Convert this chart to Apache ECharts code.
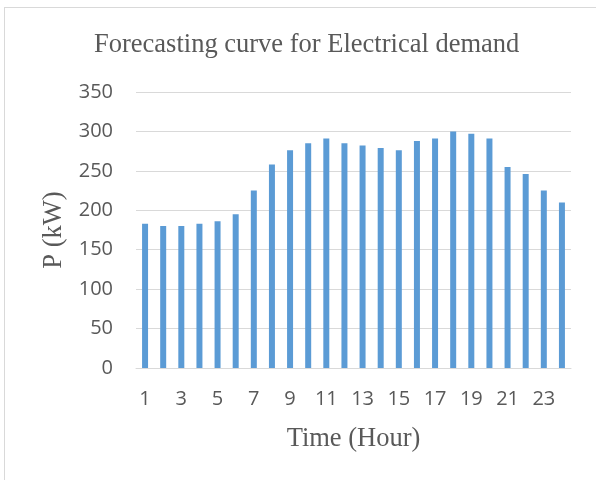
<!DOCTYPE html>
<html>
<head>
<meta charset="utf-8">
<script src="https://cdn.jsdelivr.net/npm/echarts@6/dist/echarts.min.js"></script>
<style>
  html, body { margin: 0; padding: 0; background: #fff; }
  #chart { width: 596px; height: 480px; }
</style>
</head>
<body>
<div id="chart"></div>
<script>
// Hourly forecast of electrical demand (kW)
const hours = ['1','2','3','4','5','6','7','8','9','10','11','12','13','14','15','16','17','18','19','20','21','22','23','24'];
const demand = [183, 180, 180, 183, 186, 195, 225, 258, 276, 285, 291, 285, 282, 279, 276, 288, 291, 300, 297, 291, 255, 246, 225, 210];
const yTicks = { min: 0, max: 350, step: 50 };

const titleText = 'Forecasting curve for Electrical demand';
const xName = 'Time (Hour)';
const yName = 'P (kW)';

const serif = '"Liberation Serif", "Times New Roman", serif';
const sans = '"Open Sans", "Noto Sans", sans-serif';
const textColor = '#595959';
const lineColor = '#D9D9D9';

const chart = echarts.init(document.getElementById('chart'), null, { renderer: 'canvas' });
chart.setOption({
  backgroundColor: '#ffffff',
  animation: false,
  title: {
    text: titleText,
    left: 89,
    top: 27,
    textStyle: { fontFamily: serif, fontSize: 26.5, fontWeight: 'normal', color: textColor }
  },
  graphic: [
    { type: 'line', shape: { x1: 4, y1: 7.5, x2: 596, y2: 7.5 }, style: { stroke: lineColor, lineWidth: 1 } },
    { type: 'line', shape: { x1: 4.5, y1: 7, x2: 4.5, y2: 480 }, style: { stroke: lineColor, lineWidth: 1 } }
  ],
  grid: { left: 136, right: 25, top: 92, bottom: 112 },
  xAxis: {
    type: 'category',
    data: hours,
    boundaryGap: true,
    name: xName,
    nameLocation: 'middle',
    nameGap: 58,
    nameTextStyle: { fontFamily: serif, fontSize: 26.5, color: textColor },
    axisLine: { show: true, lineStyle: { color: lineColor, width: 1 } },
    axisTick: { show: false },
    axisLabel: { interval: 1, margin: 21, fontFamily: sans, fontSize: 20, color: textColor }
  },
  yAxis: {
    type: 'value',
    min: yTicks.min,
    max: yTicks.max,
    interval: yTicks.step,
    name: yName,
    nameLocation: 'middle',
    nameGap: 68,
    nameTextStyle: { fontFamily: serif, fontSize: 26.5, color: textColor },
    axisLine: { show: false },
    axisTick: { show: false },
    axisLabel: { margin: 23, fontFamily: sans, fontSize: 20, color: textColor },
    splitLine: { lineStyle: { color: lineColor, width: 1 } }
  },
  series: [{
    type: 'bar',
    data: demand,
    barWidth: 6,
    itemStyle: { color: '#5B9BD5' }
  }]
});
</script>
</body>
</html>
